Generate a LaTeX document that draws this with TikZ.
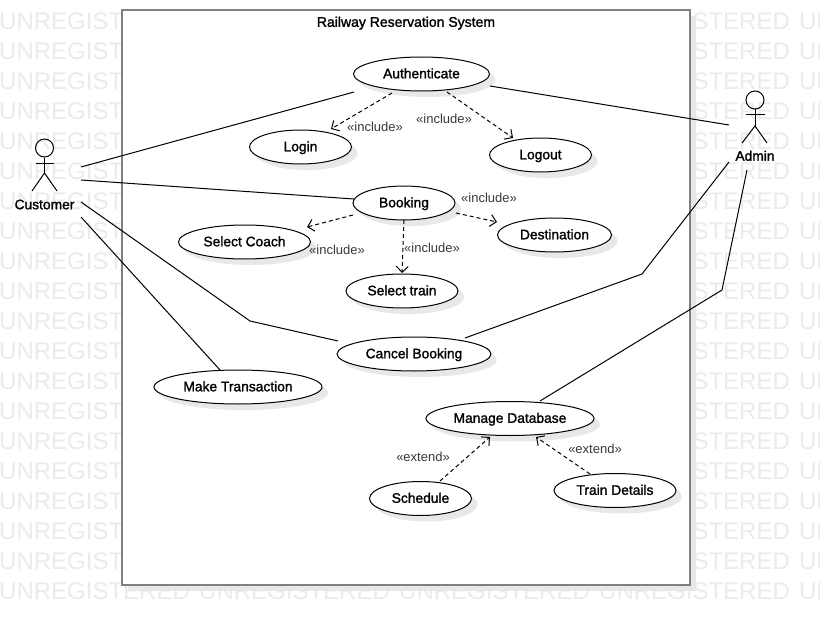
\documentclass[tikz,border=0pt]{standalone}
\usepackage{fontspec}
\setmainfont{Liberation Sans}
\newfontfamily\ucfont[FakeBold=1.5]{Liberation Sans}
\usetikzlibrary{shapes.geometric,shadows,arrows.meta}
\definecolor{wmgray}{HTML}{EBEBEB}
\definecolor{shgray}{HTML}{E8E8E8}
\definecolor{framegray}{HTML}{808080}
\definecolor{notegray}{HTML}{3A3A3A}
\tikzset{
  usecase/.style={ellipse,draw=black,line width=1pt,fill=white,inner sep=0pt,
    minimum height=34pt,text height=8.6pt,text depth=0pt,font=\ucfont\fontsize{13.8}{16}\selectfont,
    general shadow={fill=shgray,shadow xshift=6pt,shadow yshift=-6pt}},
  actorlabel/.style={inner sep=0pt,text height=9.5pt,text depth=0pt,font=\ucfont\fontsize{13.8}{16}\selectfont},
  actorhead/.style={circle,draw=black,line width=1pt,minimum size=18pt,inner sep=0pt},
  limb/.style={draw=black,line width=1pt},
  assoc/.style={draw=black,line width=1pt},
  dep/.style={draw=black,line width=1pt,dash pattern=on 4pt off 3pt,
    -{Straight Barb[length=6pt,width=12pt,line width=1pt]}},
  stereo/.style={inner sep=0pt,text=notegray,text height=9pt,text depth=0pt,font=\fontsize{13}{15}\selectfont},
  watermark/.style={inner sep=0pt,anchor=west,text=wmgray,font=\fontsize{24}{28}\selectfont},
  sysframe/.style={rectangle,draw=framegray,line width=2pt,fill=white,inner sep=0pt,
    minimum width=568pt,minimum height=575pt,
    general shadow={fill=shgray,shadow xshift=6pt,shadow yshift=-6pt}},
}
\begin{document}
\begin{tikzpicture}[x=1pt,y=-1pt]
\useasboundingbox (0,0) rectangle (820,626);
\fill[white] (0,0) rectangle (820,626);
\begin{scope}
\clip (0,0) rectangle (820,626);
\foreach \r in {21,51,...,591}{
  \foreach \c in {-1,199,399,599,799}{
    \node[watermark] (wm-\c-\r) at (\c,\r) {UNREGISTERED};
  }
}
\end{scope}
\node[sysframe] (sys) at (406,297.5) {};
\node[inner sep=0pt,text height=8.6pt,text depth=0pt,font=\ucfont\fontsize{14}{16}\selectfont] (title) at (406,22.5) {Railway Reservation System};

\node[usecase,minimum width=136pt] (auth) at (421.5,74) {Authenticate};
\node[usecase,minimum width=102pt] (login) at (300.5,147) {Login};
\node[usecase,minimum width=102pt] (logout) at (540.5,155) {Logout};
\node[usecase,minimum width=102pt] (booking) at (404,203) {Booking};
\node[usecase,minimum width=132pt] (coach) at (244.5,242) {Select Coach};
\node[usecase,minimum width=114pt] (dest) at (554.5,235) {Destination};
\node[usecase,minimum width=112pt] (train) at (402,291) {Select train};
\node[usecase,minimum width=154pt] (cancel) at (414,354) {Cancel Booking};
\node[usecase,minimum width=168pt] (trans) at (238,387) {Make Transaction};
\node[usecase,minimum width=168pt] (mdb) at (510,418.5) {Manage Database};
\node[usecase,minimum width=102pt] (sched) at (420.5,498.5) {Schedule};
\node[usecase,minimum width=122pt] (details) at (615,490.5) {Train Details};

% Customer actor
\node[actorhead] (chead) at (44.5,148) {};
\node[actorlabel] (cust) at (44.5,204.5) {Customer};
\coordinate (cneck) at (44.5,173);
\draw[limb] (chead.south) -- (cneck);
\draw[limb] (35.5,163) -- (54,163);
\draw[limb] (32,191) -- (cneck) -- (57,191);
% Admin actor
\node[actorhead] (ahead) at (755,100) {};
\node[actorlabel] (admin) at (755,156) {Admin};
\coordinate (aneck) at (755,126);
\draw[limb] (ahead.south) -- (aneck);
\draw[limb] (746,114.5) -- (764.5,114.5);
\draw[limb] (742,143) -- (aneck) -- (767,143);

% Associations
\draw[assoc] ([shift={(36.5,-37.5)}]cust.center) -- ([shift={(-67.5,18)}]auth.center);
\draw[assoc] ([shift={(36.5,-24.5)}]cust.center) -- ([shift={(-50,-4)}]booking.center);
\draw[assoc] ([shift={(36.5,-2.5)}]cust.center) -- (250,321) -- ([shift={(-76,-13)}]cancel.center);
\draw[assoc] ([shift={(36.5,12.5)}]cust.center) -- ([shift={(-18,-17)}]trans.center);
\draw[assoc] ([shift={(68.5,12)}]auth.center) -- ([shift={(-26,-31)}]admin.center);
\draw[assoc] ([shift={(-26,6)}]admin.center) -- (642,274) -- ([shift={(51,-16)}]cancel.center);
\draw[assoc] ([shift={(-8,14)}]admin.center) -- (722,290) -- ([shift={(30,-17.5)}]mdb.center);

% Dependencies
\draw[dep] ([shift={(-29.5,19)}]auth.center) -- ([shift={(30.5,-18)}]login.center);
\draw[dep] ([shift={(25.5,18)}]auth.center) -- ([shift={(-27.5,-17)}]logout.center);
\draw[dep] ([shift={(-51,12)}]booking.center) -- ([shift={(62.5,-15)}]coach.center);
\draw[dep] ([shift={(52,10)}]booking.center) -- ([shift={(-57.5,-13)}]dest.center);
\draw[dep] ([shift={(0,17)}]booking.center) -- ([shift={(0,-18)}]train.center);
\draw[dep] ([shift={(19.5,-17.5)}]sched.center) -- ([shift={(-20,18.5)}]mdb.center);
\draw[dep] ([shift={(-25,-16.5)}]details.center) -- ([shift={(26,18.5)}]mdb.center);

% Stereotypes
\node[stereo] (s1) at (375,127) {«include»};
\node[stereo] (s2) at (444,119) {«include»};
\node[stereo] (s3) at (489,198) {«include»};
\node[stereo] (s4) at (337,250) {«include»};
\node[stereo] (s5) at (432,248) {«include»};
\node[stereo] (s6) at (423,457) {«extend»};
\node[stereo] (s7) at (595,449) {«extend»};
\end{tikzpicture}
\end{document}
